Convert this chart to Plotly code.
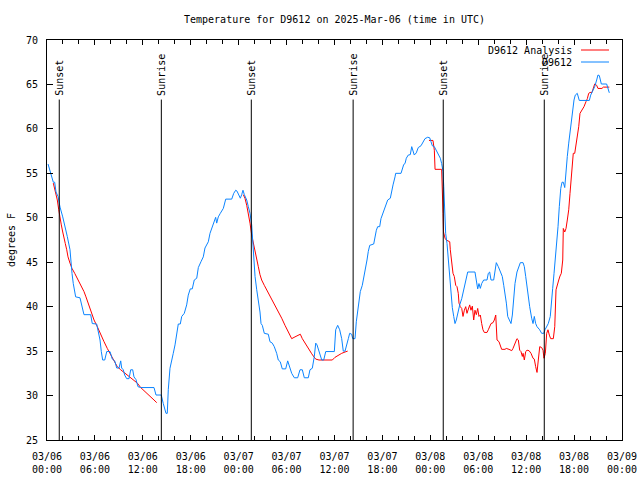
import pandas as pd
import plotly.graph_objects as go

START = pd.Timestamp("2025-03-06 00:00")

# Observed (D9612): hours since 2025-03-06 00:00 UTC, temperature (F)
obs_hours = [0.13, 0.38, 0.79, 0.96, 1.13, 1.38, 1.63, 1.97, 2.22, 2.54, 2.88, 2.97, 3.13, 3.29, 3.59, 4.13, 4.42, 4.63,
             5.47, 5.67, 6.22, 6.39, 6.64, 6.80, 6.97, 7.23, 7.48, 7.89, 8.18, 8.48, 8.73, 9.02, 9.23, 9.35, 9.55, 9.73,
             9.98, 10.27, 10.48, 10.73, 10.89, 11.14, 11.39, 11.73, 13.40, 13.65, 14.31, 14.56, 14.74, 14.90, 15.06,
             15.19, 15.40, 15.61, 15.81, 16.03, 16.24, 16.44, 16.69, 16.87, 17.19, 17.49, 17.69, 17.94, 18.19, 18.44,
             18.75, 18.95, 19.28, 19.57, 19.78, 20.20, 20.41, 20.70, 20.95, 21.12, 21.25, 21.45, 21.70, 22.08, 22.38,
             23.13, 23.38, 23.63, 23.79, 23.95, 24.21, 24.38, 24.54, 24.71, 25.01, 25.21, 25.42, 25.63, 25.71, 25.88,
             26.05, 26.26, 26.46, 26.67, 26.80, 26.96, 27.21, 27.71, 27.92, 28.21, 28.46, 28.76, 28.96, 29.21, 29.46,
             29.89, 30.14, 30.43, 30.64, 30.97, 31.39, 31.68, 31.97, 32.22, 32.72, 32.93, 33.22, 33.47, 33.65, 33.81,
             33.97, 34.18, 34.40, 34.65, 34.90, 35.98, 36.15, 36.40, 36.65, 36.90, 37.10, 37.32, 37.53, 37.73, 37.90,
             38.15, 38.28, 38.57, 38.73, 38.90, 39.07, 39.23, 39.48, 39.66, 39.91, 40.07, 40.23, 40.41, 40.91, 41.07,
             41.24, 41.41, 41.66, 41.82, 41.99, 42.24, 42.49, 42.66, 42.99, 43.16, 43.33, 43.58, 43.66, 44.33, 44.49,
             44.67, 44.83, 44.99, 45.24, 45.49, 45.67, 45.83, 45.99, 46.24, 46.49, 46.83, 47.08, 47.33, 47.67, 47.92,
             48.08, 48.25, 48.50, 48.75, 49.00, 49.25, 49.42, 49.59, 49.68, 49.84, 49.92, 50.09, 50.25, 50.43, 50.59,
             50.75, 50.93, 51.09, 51.25, 51.43, 51.68, 51.93, 52.18, 52.43, 52.68, 53.59, 53.76, 53.93, 54.09, 54.26,
             54.43, 54.68, 55.10, 55.26, 55.43, 55.60, 55.93, 56.10, 56.26, 56.51, 56.76, 57.01, 57.19, 57.35, 57.52,
             57.69, 57.94, 58.10, 58.27, 58.45, 58.60, 58.85, 59.10, 59.27, 59.61, 59.77, 59.94, 60.19, 60.44, 60.69,
             60.86, 61.02, 61.19, 61.36, 61.69, 61.94, 62.20, 62.36, 62.52, 62.77, 63.02, 63.15, 63.32, 63.49, 63.65,
             63.83, 63.99, 64.15, 64.33, 64.49, 64.65, 64.83, 64.99, 65.15, 65.33, 65.49, 65.65, 65.83, 65.99, 66.15,
             66.40, 66.65, 67.91, 68.08, 68.33, 68.58, 68.83, 68.99, 69.16, 69.41, 70.08, 70.41]
obs_temp = [56.05, 55.2, 54.0, 54.0, 52.9, 52.4, 51.2, 50.1, 49.2, 47.9, 46.4, 44.9, 43.75, 42.6, 41.1, 41.0, 40.0, 39.1,
            39.1, 38.1, 38.05, 37.2, 36.25, 34.95, 34.0, 34.0, 34.95, 34.95, 34.1, 33.9, 33.1, 33.1, 33.9, 33.1, 32.9, 32.3,
            31.9, 31.9, 32.9, 32.9, 32.1, 31.8, 31.0, 30.9, 30.9, 30.06, 30.06, 29.1, 28.6, 28.0, 28.0,
            30.7, 33.07, 33.8, 34.75, 35.7, 37.2, 38.05, 38.05, 38.9, 39.25, 40.2, 41.3, 42.0, 42.0, 43.0,
            43.2, 44.4, 45.06, 45.6, 46.6, 47.3, 48.25, 49.0, 49.4, 50.05, 49.4, 50.1, 50.5, 51.06, 52.1,
            52.1, 52.75, 53.1, 53.0, 52.6, 52.2, 52.6, 53.1, 52.6, 52.0, 51.25, 50.5, 49.2, 47.9, 46.2,
            43.4, 41.9, 40.75, 39.4, 38.1, 37.9, 37.0, 36.9, 36.06, 35.9, 35.5, 34.75, 34.0, 33.8, 33.0,
            33.0, 33.9, 32.9, 32.5, 32.0, 32.0, 32.9, 32.9, 32.0, 32.0, 32.9, 33.07, 34.4, 35.9, 35.7,
            35.2, 34.75, 34.0, 34.0, 34.95, 34.95, 37.4, 37.9, 37.4, 36.4, 35.0, 35.0, 35.9, 36.4, 37.0,
            36.9, 36.4, 36.4, 38.3, 39.4, 40.6, 41.7, 42.4, 43.2, 44.3, 45.25, 46.2, 46.9, 47.05, 47.9,
            48.6, 49.0, 49.0, 49.9, 50.3, 50.9, 51.4, 52.0, 52.2, 53.1, 53.7, 54.6, 55.0, 55.0, 55.6,
            56.0, 56.1, 56.7, 57.06, 57.1, 58.0, 57.4, 57.06, 57.3, 57.9, 58.1, 58.45, 58.9, 59.06, 59.0,
            58.56, 58.1, 58.0, 57.6, 57.06, 56.7, 56.1, 55.2, 53.5, 50.5, 48.25, 47.1, 45.25, 43.4, 41.4,
            39.9, 38.9, 38.1, 38.5, 39.25, 40.2, 40.9, 41.9, 42.8, 43.9, 43.9, 42.9, 42.0, 42.6, 42.06,
            42.6, 43.0, 43.0, 43.75, 43.9, 43.0, 43.0, 44.3, 44.95, 44.5, 43.9, 43.4, 42.4, 41.5, 40.4,
            38.9, 38.3, 38.1, 39.06, 41.1, 42.6, 43.9, 44.7, 44.95, 44.95, 44.5, 43.4, 41.5, 40.0, 38.7,
            38.1, 38.9, 38.1, 37.75, 37.4, 37.0, 37.0, 37.4, 37.75, 38.1, 38.9, 40.0, 42.06, 43.75, 45.25,
            47.3, 49.0, 51.25, 53.3, 54.0, 54.0, 53.4, 55.4, 56.9, 58.4, 59.7, 60.8, 62.1, 63.25, 63.8,
            64.0, 63.2, 63.2, 63.8, 64.2, 64.75, 65.5, 66.06, 66.0, 65.05, 65.05, 64.06]

# Analysis (D9612 Analysis): three segments, separated by gaps (None)
ana_hours = [0.79, 0.96, 1.13, 1.29, 1.47, 1.63, 1.79, 1.97, 2.13, 2.29, 2.47, 2.63, 2.88, 3.13, 3.47, 3.79, 4.22,
             4.63, 4.88, 5.13, 5.47, 5.89, 6.30, 6.72, 7.14, 7.55, 7.98, 8.39, 8.80, 9.23, 9.64, 10.06, 10.48, 10.89,
             11.31, 11.73, 12.15, 12.56, 12.99, 13.40, 13.74,
             19.0,
             24.58, 24.79, 25.01, 25.21, 25.42, 25.63, 25.83, 26.05, 26.26, 26.46, 26.67, 26.88, 27.21, 27.30, 27.71,
             28.14, 28.55, 28.96, 29.39, 29.80, 30.22, 30.64, 31.05, 31.47, 31.72, 31.97, 32.31, 32.72, 33.15, 33.35,
             33.65, 34.06, 35.73, 36.06, 36.48, 36.90, 37.32, 37.65,
             42.0,
             47.83, 48.33, 48.50, 48.59, 49.42, 49.50, 49.59, 49.65, 49.84, 50.00, 50.43, 50.50, 50.68, 50.84, 51.00,
             51.18, 51.34, 51.50, 51.59, 51.75, 51.93, 52.09, 52.26, 52.43, 52.59, 52.76, 52.93, 53.09, 53.26, 53.43,
             53.59, 53.76, 53.93, 54.09, 54.26, 54.43, 54.59, 54.76, 55.10, 55.26, 55.43, 55.60, 55.85, 56.01, 56.19,
             56.26, 56.35, 56.60, 56.76, 56.93, 57.35, 57.51, 57.85, 58.01, 58.19, 58.35, 58.60, 58.85, 59.02, 59.19,
             59.35, 59.52, 59.61, 59.77, 59.94, 60.11, 60.36, 60.61, 60.86, 61.02, 61.19, 61.36, 61.52, 61.70, 61.94,
             62.11, 62.23, 62.40, 62.57, 62.73, 62.90, 63.07, 63.40, 63.58, 63.74, 63.90, 64.08, 64.24, 64.40, 64.58,
             64.65, 64.83, 64.99, 65.15, 65.33, 65.49, 65.65, 65.83, 65.90, 66.08, 66.24, 66.40, 66.58, 66.74, 66.99,
             67.24, 67.49, 67.66, 67.83, 68.00, 68.24, 68.41, 68.58, 68.83, 68.99, 69.49, 69.66, 70.41]
ana_temp = [53.9, 53.3, 52.75, 52.0, 50.9, 49.9, 49.2, 48.4, 47.9, 47.1, 46.4, 45.6, 44.9, 44.3, 43.75, 43.2, 42.4,
            41.7, 41.1, 40.4, 39.4, 38.5, 37.75, 36.8, 36.06, 35.3, 34.56, 33.8, 33.25, 32.9, 32.6, 32.3, 32.06, 31.75,
            31.4, 30.9, 30.55, 30.3, 29.95, 29.5, 29.2,
            None,
            52.6, 52.2, 51.4, 50.5, 49.4, 48.06, 47.1, 46.4, 45.25, 44.5, 43.6, 43.0, 42.4, 42.25, 41.5,
            40.75, 40.2, 39.4, 38.7, 37.9, 37.2, 36.4, 36.6, 36.8, 36.9, 36.4, 35.9, 35.2, 34.7, 34.45,
            34.1, 34.0, 34.0, 34.3, 34.56, 34.75, 34.9, 35.0,
            None,
            58.7, 58.7, 57.6, 55.45, 55.45, 53.9, 50.5, 48.4, 47.7, 47.5, 47.3, 46.4, 44.9, 43.75, 43.4,
            42.4, 42.25, 41.5, 40.4, 40.0, 39.8, 38.9, 39.6, 40.0, 39.25, 39.8, 40.2, 39.6, 40.06, 38.5,
            39.6, 39.1, 39.8, 38.9, 39.06, 38.1, 37.4, 37.1, 37.1, 37.4, 37.75, 38.1, 38.2, 38.5, 39.06,
            38.2, 36.25, 36.06, 35.5, 35.2, 35.2, 35.3, 35.2, 35.1, 35.05, 35.3, 35.9, 36.4, 36.25, 35.1,
            34.95, 34.4, 34.75, 34.0, 34.95, 35.1, 35.05, 34.75, 34.2, 34.1, 33.25, 32.6, 34.0, 35.5, 35.4,
            35.1, 34.2, 34.75, 37.0, 37.4, 36.8, 36.4, 36.4, 37.75, 41.9, 42.55, 43.0, 43.45, 43.75, 45.25,
            48.8, 48.4, 48.8, 49.75, 50.9, 52.75, 55.0, 56.5, 57.25, 57.25, 58.2, 59.1, 60.25, 61.75, 62.1,
            62.5, 63.06, 63.4, 64.0, 64.1, 64.1, 64.75, 65.05, 64.9, 64.55, 64.55, 64.7, 64.7]

# Sun events (UTC)
sun_events = ["2025-03-06 01:32", "2025-03-06 14:19", "2025-03-07 01:35",
              "2025-03-07 14:20", "2025-03-08 01:37", "2025-03-08 14:16"]
sun_labels = ["Sunset", "Sunrise", "Sunset", "Sunrise", "Sunset", "Sunrise"]

series_names = ["D9612 Analysis", "D9612"]
series_colors = ["#ff0000", "#0a84ff"]

obs_t = START + pd.to_timedelta(obs_hours, unit="h")
ana_t = START + pd.to_timedelta(ana_hours, unit="h")

FONT = "DejaVu Sans Mono"
PL, PR, PT, PB = 47, 622, 40, 440  # plot box in pixels

fig = go.Figure()
fig.add_trace(go.Scatter(x=ana_t, y=ana_temp, mode="lines", name=series_names[0],
                         line=dict(color=series_colors[0], width=1), connectgaps=False, showlegend=False))
fig.add_trace(go.Scatter(x=obs_t, y=obs_temp, mode="lines", name=series_names[1],
                         line=dict(color=series_colors[1], width=1), showlegend=False))

for t, lab in zip(sun_events, sun_labels):
    fig.add_shape(type="line", x0=t, x1=t, xref="x", yref="y", y0=25, y1=63.3,
                  line=dict(color="black", width=1))
    fig.add_annotation(x=t, y=63.3, xref="x", yref="y", text=lab, textangle=-90, showarrow=False,
                       xanchor="center", yanchor="bottom", yshift=2, font=dict(family=FONT, size=10, color="black"))

# legend drawn gnuplot-style (text then sample)
for i, (nm, col) in enumerate(zip(series_names, series_colors)):
    ypx = 50 + 12 * i
    yp = 1 - (ypx - PT) / (PB - PT)
    fig.add_annotation(x=(574 - PL) / (PR - PL), xref="paper", y=yp, yref="paper", text=nm, showarrow=False,
                       xanchor="right", yanchor="middle", font=dict(family=FONT, size=10, color="black"))
    fig.add_shape(type="line", xref="paper", yref="paper", x0=(581 - PL) / (PR - PL), x1=(609 - PL) / (PR - PL),
                  y0=yp, y1=yp, line=dict(color=col, width=1))

fig.update_layout(
    width=640, height=480,
    margin=dict(l=PL, r=640 - PR, t=PT, b=480 - PB, autoexpand=False),
    paper_bgcolor="white", plot_bgcolor="white",
    font=dict(family=FONT, size=10, color="black"),
    title=dict(text="Temperature for D9612 on 2025-Mar-06 (time in UTC)", x=0.5, xref="paper",
               y=1 - 19 / 480, yanchor="middle", font=dict(family=FONT, size=10, color="black")),
    showlegend=False,
)
fig.update_xaxes(
    type="date", range=["2025-03-06 00:00", "2025-03-09 00:00"], automargin=False,
    tick0="2025-03-06 00:00", dtick=6 * 3600 * 1000, tickformat="%m/%d<br>%H:%M",
    ticks="inside", ticklen=5, tickcolor="black", showline=True, linecolor="black", linewidth=1,
    mirror="allticks", showgrid=False, zeroline=False,
    minor=dict(dtick=2 * 3600 * 1000, ticks="inside", ticklen=4, tickcolor="black", showgrid=False),
    tickfont=dict(family=FONT, size=10, color="black"), ticklabelstandoff=7,
)
fig.update_yaxes(
    range=[25, 70], dtick=5, tick0=25, ticks="inside", ticklen=6, tickcolor="black", automargin=False,
    showline=True, linecolor="black", linewidth=1, mirror="allticks", showgrid=False, zeroline=False,
    tickfont=dict(family=FONT, size=10, color="black"), ticklabelstandoff=6,
    title=dict(text="degrees F", standoff=8, font=dict(family=FONT, size=10, color="black")),
)

fig.write_html("out.html")
